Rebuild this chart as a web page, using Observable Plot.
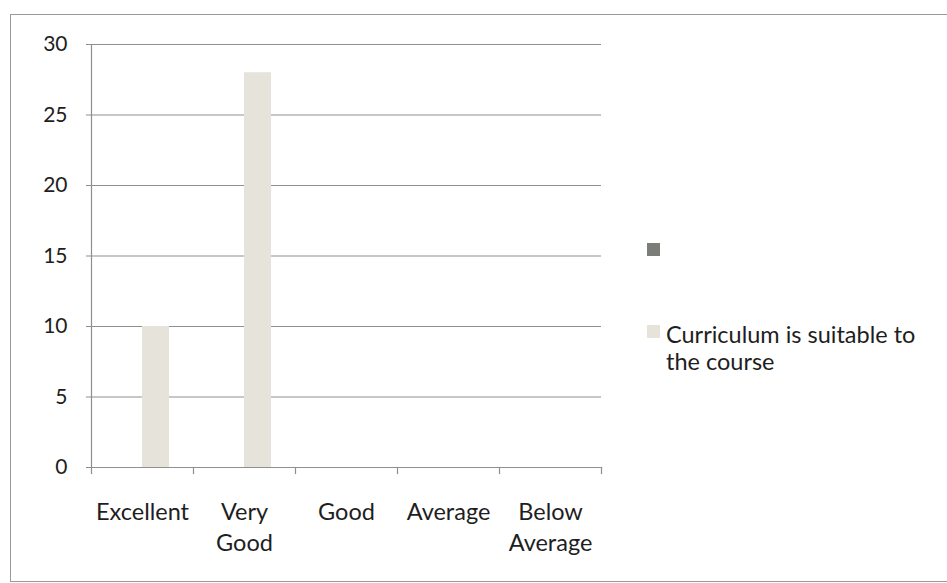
<!DOCTYPE html>
<html>
<head>
<meta charset="utf-8">
<script src="https://cdn.jsdelivr.net/npm/d3@7"></script>
<script src="https://cdn.jsdelivr.net/npm/@observablehq/plot@0.6"></script>
<style>
  html, body { margin: 0; padding: 0; background: #fff; }
  #wrap { position: relative; width: 947px; height: 583px; overflow: hidden; font-family: Lato, "Open Sans", sans-serif; color: #1e1e1e; }
  #border { position: absolute; left: 10px; top: 14px; width: 960px; height: 566px; border-left: 1.5px solid #9a9a9a; border-top: 1.5px solid #9a9a9a; border-bottom: 1.5px solid #9a9a9a; }
  #chart { position: absolute; left: 0; top: 0; }
  .lg { position: absolute; left: 647px; width: 13px; height: 13px; }
  .lgtext { position: absolute; left: 666px; font-size: 23.5px; line-height: 27px; width: 268px; }
</style>
</head>
<body>
<div id="wrap">
  <div id="border"></div>
  <div id="chart"></div>
  <div id="legend"></div>
</div>
<script>
const categories = ["Excellent", "Very Good", "Good", "Average", "Below Average"];
const tickLabels = ["Excellent", "Very\nGood", "Good", "Average", "Below\nAverage"];
const seriesNames = ["", "Curriculum is suitable to the course"];
const series1Values = [null, null, null, null, null];
const series2Values = [10, 28, 0, 0, 0];
const yTicks = [0, 5, 10, 15, 20, 25, 30];
const seriesColors = ["#7b7e78", "#e6e4da"];

const rows = [];
categories.forEach((c, i) => {
  rows.push({category: c, series: seriesNames[0], value: series1Values[i]});
  rows.push({category: c, series: seriesNames[1], value: series2Values[i]});
});

const W = 947, H = 583, mL = 89, mR = 344, mT = 44, mB = 116;
const innerH = H - mT - mB;
const axisColor = "#8f8f8f";

const chart = Plot.plot({
  width: W, height: H,
  marginLeft: mL, marginRight: mR, marginTop: mT, marginBottom: mB,
  style: {fontFamily: "Lato, 'Open Sans', sans-serif", color: "#1e1e1e", background: "transparent"},
  fx: {domain: categories, padding: 0, axis: null},
  x: {domain: seriesNames, paddingInner: 0, paddingOuter: 0.83, axis: null},
  y: {domain: [0, 30], axis: null},
  color: {domain: seriesNames, range: seriesColors},
  marks: [
    Plot.gridY(yTicks, {stroke: axisColor, strokeOpacity: 1, strokeWidth: 1.2}),
    Plot.axisY(yTicks, {label: null, tickSize: 5, tickPadding: 19, fontSize: 21, stroke: axisColor, strokeOpacity: 1, fill: "#1e1e1e", tickFormat: d => String(d)}),
    Plot.barY(rows, {fx: "category", x: "series", y: "value", fill: "series"}),
    Plot.frame({anchor: "bottom", stroke: axisColor, strokeWidth: 1.2}),
    Plot.frame({anchor: "left", facetAnchor: "left", stroke: axisColor, strokeWidth: 1.2}),
    Plot.frame({anchor: "left", insetTop: innerH, insetBottom: -6, stroke: axisColor, strokeWidth: 1.2}),
    Plot.frame({anchor: "right", facetAnchor: "right", insetTop: innerH, insetBottom: -6, stroke: axisColor, strokeWidth: 1.2}),
    Plot.axisFx({domain: categories, label: null, anchor: "bottom", tickSize: 0, tickPadding: 31, fontSize: 23.5, lineHeight: 1.3, fill: "#1e1e1e",
      tickFormat: d => tickLabels[categories.indexOf(d)]})
  ]
});
document.getElementById("chart").appendChild(chart);

const legend = document.getElementById("legend");
const legendTops = [243, 325];
seriesNames.forEach((s, i) => {
  const sw = document.createElement("div");
  sw.className = "lg";
  sw.style.top = legendTops[i] + "px";
  sw.style.background = seriesColors[i];
  legend.appendChild(sw);
  if (s) {
    const t = document.createElement("div");
    t.className = "lgtext";
    t.style.top = (legendTops[i] - 4) + "px";
    t.textContent = s;
    legend.appendChild(t);
  }
});
</script>
</body>
</html>
